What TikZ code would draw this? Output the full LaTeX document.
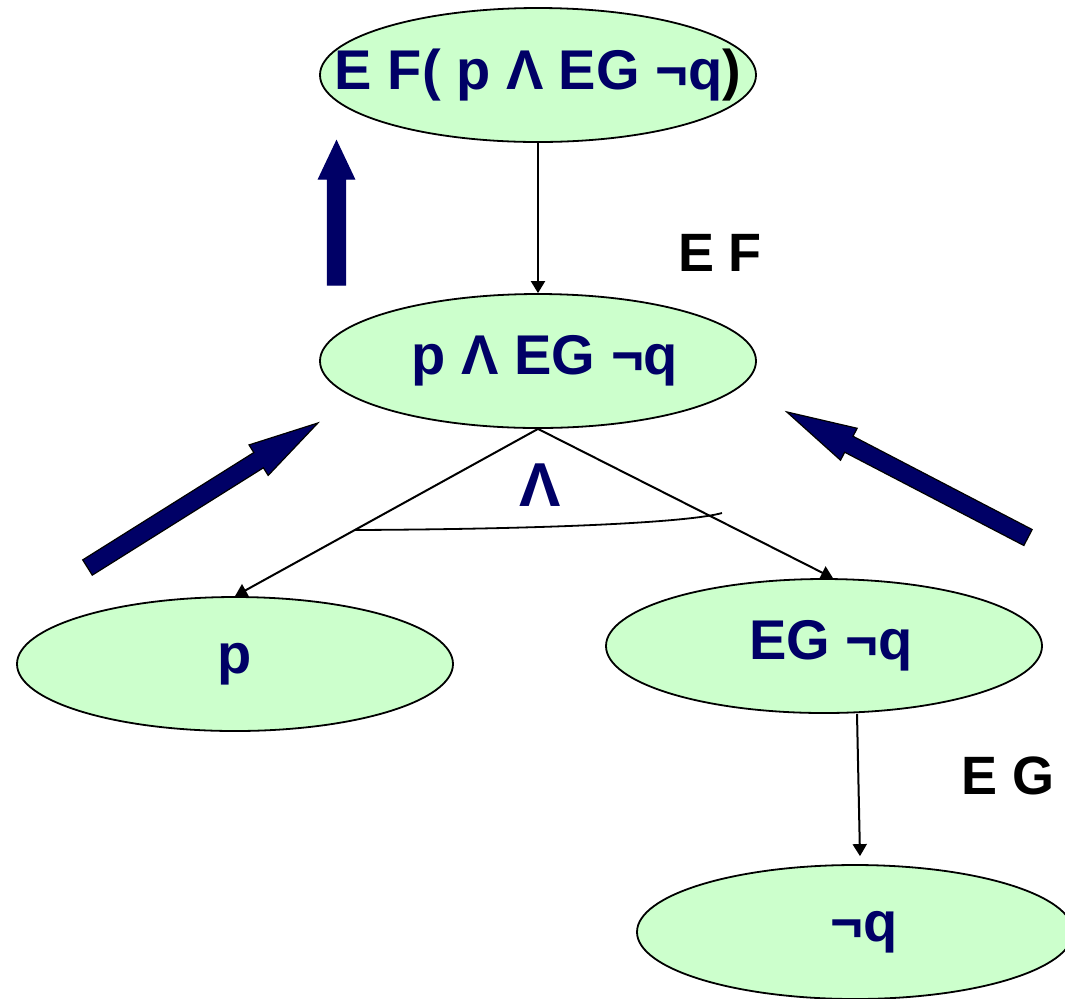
\documentclass[tikz,border=0pt]{standalone}
\usepackage{fontspec}
\setmainfont{Liberation Sans}
\usepackage{tikz}
\usetikzlibrary{shapes.geometric,calc}
\usetikzlibrary{arrows.meta}
\definecolor{navy}{HTML}{000066}
\definecolor{lightgreen}{HTML}{CCFFCC}
\tikzstyle{state}=[ellipse,draw=black,line width=0.9pt,fill=lightgreen,
                   minimum width=218pt,minimum height=67pt,inner sep=0pt,
                   text=navy,font=\fontsize{28}{32}\selectfont\bfseries]
\tikzstyle{oplabel}=[font=\fontsize{27}{32}\selectfont\bfseries]
\tikzstyle{bigarrow}=[fill=navy,draw=black,line width=0.6pt,line join=miter]
\tikzset{>={Triangle[length=6pt,width=7pt]}}
\tikzstyle{edge}=[->,line width=1pt]

% text that does not widen the ellipse (shift right, then down)
\newcommand{\ftext}[2][0pt]{\makebox[0pt]{\hspace*{#1}\raisebox{-3.5pt}{#2}}}

% fat arrow: tail point, angle, length, head length
\newcommand{\fatarrow}[5][]{%
  \begin{scope}[shift={#2},rotate=#3]
    \draw[bigarrow,#1] (0,-9) -- ({#4-#5},-9) -- ({#4-#5},-18) -- (#4,0)
      -- ({#4-#5},18) -- ({#4-#5},9) -- (0,9) -- cycle;
  \end{scope}}

\begin{document}
\begin{tikzpicture}[x=0.5pt,y=-0.5pt]

\useasboundingbox (0,0) rectangle (1065,998);
\clip (0,0) rectangle (1065,998);

% Formula tree
\node[state] (top) at (538,75)  {\ftext{E F( p Λ EG ¬q\textcolor{black}{)}}};
\node[state] (mid) at (538,361) {\ftext[7pt]{p Λ EG ¬q}};
\node[state] (p)   at (235,664) {\ftext{p}};
\node[state] (eg)  at (824,646) {\ftext[7pt]{EG ¬q}};
\node[state] (nq)  at (855,932) {\ftext[9pt]{¬q}};

% Edges
\draw[edge] (top.south) -- (mid.north);
\draw[edge] (mid.south) -- (p.north);
\draw[edge] (mid.south) -- ($(eg.north)+(9,0)$);
\draw[edge] ($(eg.south)+(33,0)$) -- ($(nq.north)+(5,-8)$);

% Operator labels
\node[oplabel] (ef) at (720,253) {E F};
\node[oplabel] (egl) at (1008,776) {E G};
\node[oplabel,text=navy,font=\fontsize{31}{34}\selectfont\bfseries] (and) at (540,485) {Λ};

% Conjunction arc
\draw[line width=0.9pt] (355,530) .. controls (560,529) and (690,522) .. (722,513);

% Bottom-up arrows
\fatarrow[draw=navy]{(336.5,285)}{90}{144}{38}
\fatarrow{(87.5,567.5)}{32.1}{272}{70}
\fatarrow{(1028,537.5)}{152.5}{272}{70}

\end{tikzpicture}
\end{document}
